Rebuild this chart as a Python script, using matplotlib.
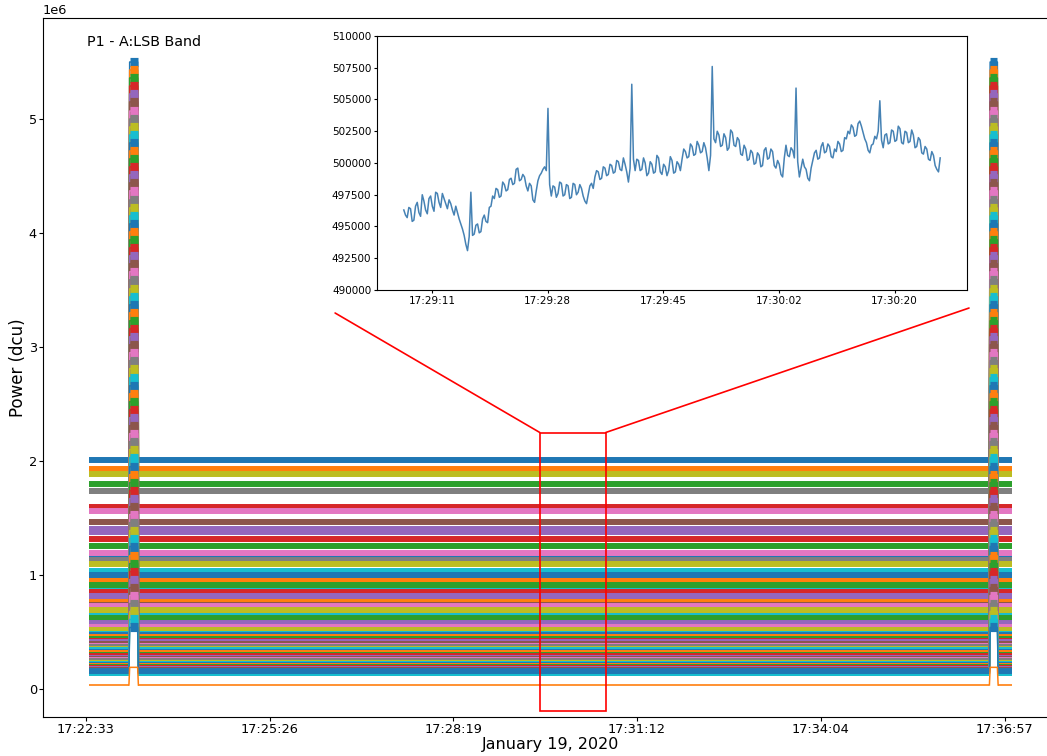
import matplotlib
matplotlib.use("Agg")
import matplotlib.pyplot as plt
from matplotlib.patches import Rectangle, ConnectionPatch
from matplotlib.ticker import FixedLocator, FixedFormatter

# ---------------- data ----------------
# main axes: time in seconds after 17:22:33
data_start = 3.0
data_end = 871.0
spike1 = [40.6, 41.3, 48.8, 49.5]      # rise start, rise end, fall start, fall end
spike2 = [849.8, 850.5, 857.3, 858.0]

main_tick_pos = [0.0, 172.8, 345.6, 518.4, 691.2, 864.0]
main_tick_labels = ["17:22:33", "17:25:26", "17:28:19", "17:31:12", "17:34:04", "17:36:57"]

# channel baseline levels (1e6 dcu), colours follow the default cycle by index
baselines = [2.010, 1.930, 1.800, 1.595, 1.405, 1.468, 1.560, 1.735, 1.885, 1.036,
             1.160, 0.955, 1.252, 1.316, 1.378, 0.756, 1.194, 1.130, 1.095, 0.880,
             1.000, 0.790, 0.911, 0.849, 0.814, 0.700, 0.730, 0.665, 0.690, 0.640,
             0.610, 0.590, 0.625, 0.560, 0.575, 0.530, 0.545, 0.505, 0.520, 0.485,
             0.470, 0.455, 0.440, 0.425, 0.410, 0.395, 0.380, 0.365, 0.350, 0.338,
             0.325, 0.312, 0.300, 0.288, 0.276, 0.265, 0.254, 0.243, 0.232, 0.222,
             0.212, 0.202, 0.193, 0.184, 0.176, 0.168, 0.161, 0.138, 0.148, 0.143,
             0.154, 0.035]
# level reached during the two calibration spikes (1e6 dcu)
peaks = [5.50, 5.43, 5.36, 5.29, 5.22, 5.15, 5.07, 5.00, 4.93, 4.86,
         4.79, 4.72, 4.65, 4.58, 4.51, 4.44, 4.37, 4.29, 4.22, 4.15,
         4.08, 4.01, 3.94, 3.87, 3.80, 3.73, 3.66, 3.59, 3.51, 3.44,
         3.37, 3.30, 3.23, 3.16, 3.09, 3.02, 2.95, 2.88, 2.81, 2.73,
         2.66, 2.59, 2.52, 2.45, 2.38, 2.31, 2.24, 2.17, 2.10, 2.03,
         1.95, 1.88, 1.81, 1.74, 1.67, 1.60, 1.53, 1.46, 1.39, 1.32,
         1.25, 1.17, 1.10, 1.03, 0.96, 0.89, 0.82, 0.75, 0.68, 0.61,
         0.54, 0.19]

# zoom rectangle on main axes (seconds, 1e6 dcu)
zoom_x0, zoom_x1 = 427.0, 489.0
zoom_y0, zoom_y1 = -0.193, 2.25

# inset: seconds after 17:29:07, sampled every 0.25 s ; values in 1e3 dcu
inset_dt = 0.25
inset_vals = [
    496.3, 495.9, 495.7, 496.5, 496.4, 495.4, 495.5, 496.6, 496.9, 496.1,
    495.8, 497.5, 497.0, 496.3, 496.0, 497.2, 497.4, 496.6, 496.2, 497.7,
    497.6, 496.9, 496.5, 497.6, 497.2, 496.8, 496.4, 497.1, 496.8, 496.3,
    495.9, 496.6, 496.1, 495.6, 495.2, 494.8, 494.3, 493.6, 493.1, 494.2,
    497.7, 494.3, 494.4, 495.1, 495.2, 494.5, 494.6, 495.6, 495.9, 495.4,
    495.3, 496.5, 496.6, 497.4, 497.2, 498.0, 497.9, 497.3, 497.4, 498.5,
    498.3, 497.8, 497.9, 498.7, 498.8, 498.3, 498.4, 499.5, 499.6, 498.6,
    498.7, 499.1, 498.9, 498.2, 497.8, 498.4, 498.2, 497.1, 496.9, 497.8,
    498.6, 499.0, 499.2, 499.5, 499.7, 499.4, 504.3, 498.3, 497.4, 498.2,
    498.1, 497.3, 497.6, 498.5, 498.4, 497.4, 497.5, 498.3, 498.2, 497.2,
    497.3, 498.4, 498.3, 497.5, 497.7, 498.3, 498.0, 497.4, 497.0, 496.8,
    497.5, 498.2, 498.4, 498.0, 498.9, 499.4, 499.3, 498.7, 498.8, 499.7,
    499.6, 499.0, 499.1, 499.9, 499.8, 499.2, 499.3, 500.2, 500.1, 499.5,
    499.4, 500.4, 499.9, 499.3, 498.5, 499.6, 506.2, 500.3, 499.4, 500.3,
    500.2, 499.4, 499.5, 500.4, 500.0, 499.0, 499.2, 500.1, 499.9, 499.2,
    499.3, 500.6, 500.4, 499.3, 499.1, 499.9, 499.7, 499.0, 499.4, 500.5,
    500.2, 499.2, 499.3, 500.1, 499.9, 499.4, 500.3, 501.1, 500.9, 500.4,
    500.5, 501.5, 501.3, 500.6, 500.7, 501.7, 501.4, 500.8, 500.9, 501.6,
    501.2, 500.4, 499.4, 500.6, 507.6, 501.9, 501.6, 502.5, 502.2, 501.3,
    501.4, 502.3, 502.0, 501.0, 501.2, 502.6, 502.4, 501.4, 501.3, 502.0,
    501.8, 500.7, 500.6, 501.4, 501.1, 500.2, 500.3, 501.0, 500.8, 499.9,
    500.0, 500.8, 500.6, 499.7, 499.8, 501.0, 501.2, 500.3, 500.4, 501.1,
    500.9, 499.8, 499.6, 500.2, 499.9, 499.1, 498.9, 500.4, 501.4, 500.6,
    500.5, 501.2, 501.0, 500.4, 505.9, 500.1, 498.9, 499.6, 500.3, 499.7,
    499.5, 498.8, 498.6, 499.6, 500.2, 500.8, 501.0, 500.3, 500.4, 501.3,
    501.6, 500.8, 500.9, 501.5, 501.3, 500.5, 500.4, 501.1, 500.9, 501.7,
    501.5, 500.9, 501.0, 502.0, 501.9, 502.5, 502.3, 503.0, 502.8, 502.1,
    502.2, 503.1, 503.3, 502.9, 502.4, 501.9, 501.6, 501.0, 500.8, 501.4,
    501.5, 502.1, 501.9, 502.5, 504.9, 501.8, 501.2, 502.2, 502.3, 501.5,
    501.6, 502.6, 502.5, 501.7, 501.8, 502.9, 502.7, 501.6, 501.5, 502.5,
    502.4, 501.6, 501.7, 502.6, 502.2, 501.2, 501.3, 502.0, 501.8, 500.8,
    500.7, 501.3, 501.1, 500.3, 500.2, 500.9, 500.6, 499.8, 499.5, 499.3,
    500.4]
inset_tick_pos = [4.2, 21.45, 38.7, 55.95, 73.2]
inset_tick_labels = ["17:29:11", "17:29:28", "17:29:45", "17:30:02", "17:30:20"]
inset_yticks = [490000, 492500, 495000, 497500, 500000, 502500, 505000, 507500, 510000]

# ---------------- figure ----------------
W, H = 1047, 756
fig = plt.figure(figsize=(W / 100, H / 100), dpi=100)
ax = fig.add_axes([43 / W, 39 / H, 1015 / W, 699 / H])

colors = plt.rcParams["axes.prop_cycle"].by_key()["color"]
nan = float("nan")
n = len(baselines)
for i, (b, p) in enumerate(zip(baselines, peaks)):
    c = colors[i % 10]
    special = (i == n - 1)
    # flat parts of the channel
    bx = [data_start, spike1[0], nan, spike1[3], spike2[0], nan, spike2[3], data_end]
    by = [b, b, nan, b, b, nan, b, b]
    ax.plot(bx, [v * 1e6 for v in by], color=c, lw=1.2 if special else 4.3,
            solid_capstyle="butt")
    # the two calibration spikes
    for s in (spike1, spike2):
        ax.plot(s, [b * 1e6, p * 1e6, p * 1e6, b * 1e6], color=c, lw=1.1)
        if not special:
            ax.plot(s[1:3], [p * 1e6, p * 1e6], color=c, lw=6.6,
                    solid_capstyle="butt")

ax.set_xlim(-40.2, 914.3)
ax.set_ylim(-0.2456e6, 5.886e6)
ax.set_yticks([0, 1e6, 2e6, 3e6, 4e6, 5e6])
ax.xaxis.set_major_locator(FixedLocator(main_tick_pos))
ax.xaxis.set_major_formatter(FixedFormatter(main_tick_labels))
ax.tick_params(labelsize=9.3, length=2.6, pad=1.8)
ax.yaxis.get_offset_text().set_fontsize(9.3)
ax.set_xlabel("January 19, 2020", fontsize=11.5, labelpad=1)
ax.set_ylabel("Power (dcu)", fontsize=12, labelpad=1.5)
ax.text(0.043, 0.966, "P1 - A:LSB Band", transform=ax.transAxes,
        fontsize=10.3, va="center", ha="left")

ax.add_patch(Rectangle((zoom_x0, zoom_y0 * 1e6), zoom_x1 - zoom_x0,
                       (zoom_y1 - zoom_y0) * 1e6, fill=False, ec="red", lw=1.2, zorder=5))

# ---------------- inset ----------------
axi = fig.add_axes([377 / W, 466 / H, 590 / W, 254 / H])
axi.set_facecolor("white")
t_in = [k * inset_dt for k in range(len(inset_vals))]
axi.plot(t_in, [v * 1000 for v in inset_vals], color="#4682b4", lw=1.1)
axi.set_xlim(-4.0, 84.0)
axi.set_ylim(490000, 510000)
axi.set_yticks(inset_yticks)
axi.set_yticklabels([str(v) for v in inset_yticks])
axi.xaxis.set_major_locator(FixedLocator(inset_tick_pos))
axi.xaxis.set_major_formatter(FixedFormatter(inset_tick_labels))
axi.tick_params(labelsize=7.5, length=2.5, pad=1.6)

for xa, ya, xb in [(-0.071, -0.0906, zoom_x0), (1.0034, -0.071, zoom_x1)]:
    con = ConnectionPatch(xyA=(xa, ya), coordsA=axi.transAxes,
                          xyB=(xb, zoom_y1 * 1e6), coordsB=ax.transData,
                          color="red", lw=1.2)
    fig.add_artist(con)

fig.savefig("out.png", dpi=100)
